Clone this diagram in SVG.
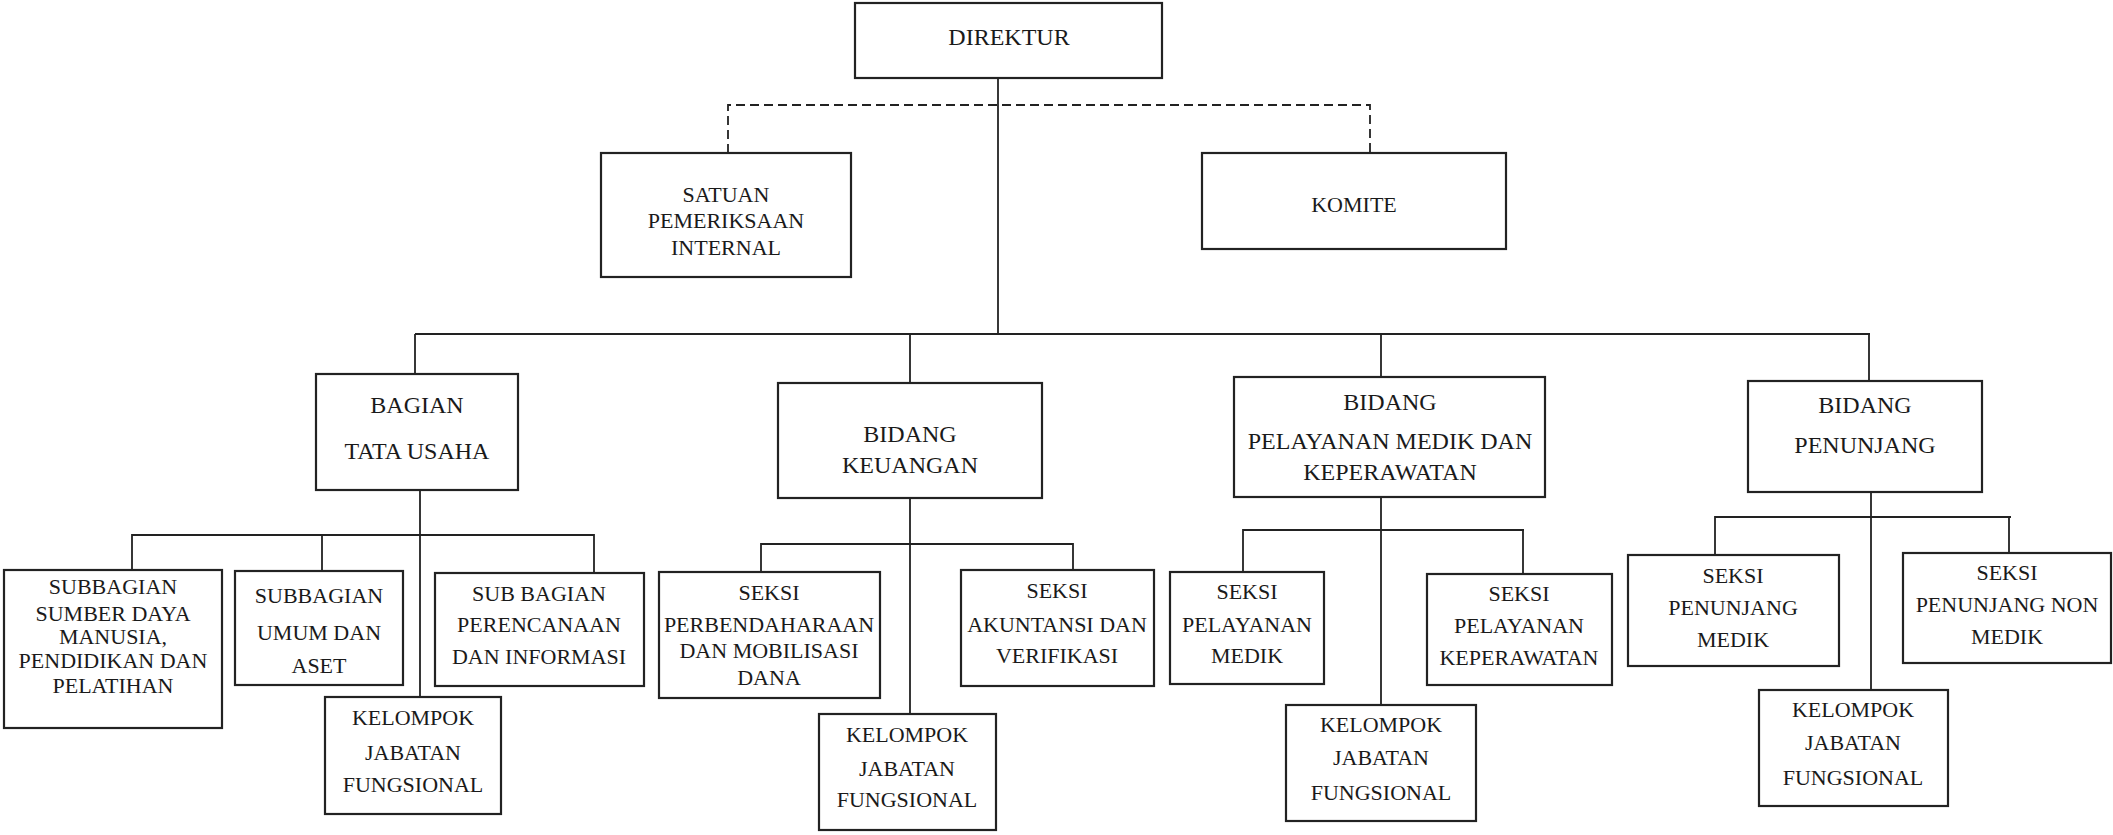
<svg xmlns="http://www.w3.org/2000/svg" width="2113" height="835" viewBox="0 0 2113 835">
<style>
.box{fill:#fff;stroke:#222;stroke-width:2.2}
.ln{fill:none;stroke:#222;stroke-width:1.8}
.dash{fill:none;stroke:#222;stroke-width:1.8;stroke-dasharray:9 5}
text{font-family:"Liberation Serif","Times New Roman",serif;fill:#1a1a1a;text-anchor:middle}
.t24{font-size:24px}
.t22{font-size:22px}
</style>
<rect width="2113" height="835" fill="#fff"/>
<g id="connectors">
<path class="ln" d="M998 78V334"/>
<path class="dash" d="M728 153V105H1370V153"/>
<path class="ln" d="M415 334H1870"/>
<path class="ln" d="M415 334V374M910 334V383M1381 334V377M1869 334V381"/>
<path class="ln" d="M420 490V697M132 570V535H594V573M322 535V571"/>
<path class="ln" d="M910 497V714M761 572V544H1073V570"/>
<path class="ln" d="M1381 497V705M1243 572V530H1524M1523 530V574"/>
<path class="ln" d="M1871 492V690M1715 555V517H2011M2009 517V553"/>
</g>
<g id="direktur"><rect class="box" x="855" y="3" width="307" height="75"/><text class="t24" x="1009" y="45">DIREKTUR</text></g>
<g id="spi"><rect class="box" x="601" y="153" width="250" height="124"/><text class="t22" x="726" y="202">SATUAN</text><text class="t22" x="726" y="228">PEMERIKSAAN</text><text class="t22" x="726" y="255">INTERNAL</text></g>
<g id="komite"><rect class="box" x="1202" y="153" width="304" height="96"/><text class="t22" x="1354" y="212">KOMITE</text></g>
<g id="tata-usaha"><rect class="box" x="316" y="374" width="202" height="116"/><text class="t24" x="417" y="413">BAGIAN</text><text class="t24" x="417" y="459">TATA USAHA</text></g>
<g id="keuangan"><rect class="box" x="778" y="383" width="264" height="115"/><text class="t24" x="910" y="442">BIDANG</text><text class="t24" x="910" y="473">KEUANGAN</text></g>
<g id="pelayanan"><rect class="box" x="1234" y="377" width="311" height="120"/><text class="t24" x="1390" y="410">BIDANG</text><text class="t24" x="1390" y="449">PELAYANAN MEDIK DAN</text><text class="t24" x="1390" y="480">KEPERAWATAN</text></g>
<g id="penunjang"><rect class="box" x="1748" y="381" width="234" height="111"/><text class="t24" x="1865" y="413">BIDANG</text><text class="t24" x="1865" y="453">PENUNJANG</text></g>
<g id="sub-sdm"><rect class="box" x="4" y="570" width="218" height="158"/><text class="t22" x="113" y="594">SUBBAGIAN</text><text class="t22" x="113" y="621">SUMBER DAYA</text><text class="t22" x="113" y="644">MANUSIA,</text><text class="t22" x="113" y="668">PENDIDIKAN DAN</text><text class="t22" x="113" y="693">PELATIHAN</text></g>
<g id="sub-umum"><rect class="box" x="235" y="571" width="168" height="114"/><text class="t22" x="319" y="603">SUBBAGIAN</text><text class="t22" x="319" y="640">UMUM DAN</text><text class="t22" x="319" y="673">ASET</text></g>
<g id="sub-perencanaan"><rect class="box" x="435" y="573" width="209" height="113"/><text class="t22" x="539" y="601">SUB BAGIAN</text><text class="t22" x="539" y="632">PERENCANAAN</text><text class="t22" x="539" y="664">DAN INFORMASI</text></g>
<g id="kjf-tu"><rect class="box" x="325" y="697" width="176" height="117"/><text class="t22" x="413" y="725">KELOMPOK</text><text class="t22" x="413" y="760">JABATAN</text><text class="t22" x="413" y="792">FUNGSIONAL</text></g>
<g id="seksi-perbendaharaan"><rect class="box" x="659" y="572" width="221" height="126"/><text class="t22" x="769" y="600">SEKSI</text><text class="t22" x="769" y="632">PERBENDAHARAAN</text><text class="t22" x="769" y="658">DAN MOBILISASI</text><text class="t22" x="769" y="685">DANA</text></g>
<g id="seksi-akuntansi"><rect class="box" x="961" y="570" width="193" height="116"/><text class="t22" x="1057" y="598">SEKSI</text><text class="t22" x="1057" y="632">AKUNTANSI DAN</text><text class="t22" x="1057" y="663">VERIFIKASI</text></g>
<g id="kjf-keu"><rect class="box" x="819" y="714" width="177" height="116"/><text class="t22" x="907" y="742">KELOMPOK</text><text class="t22" x="907" y="776">JABATAN</text><text class="t22" x="907" y="807">FUNGSIONAL</text></g>
<g id="seksi-pelayanan-medik"><rect class="box" x="1170" y="572" width="154" height="112"/><text class="t22" x="1247" y="599">SEKSI</text><text class="t22" x="1247" y="632">PELAYANAN</text><text class="t22" x="1247" y="663">MEDIK</text></g>
<g id="seksi-keperawatan"><rect class="box" x="1427" y="574" width="185" height="111"/><text class="t22" x="1519" y="601">SEKSI</text><text class="t22" x="1519" y="633">PELAYANAN</text><text class="t22" x="1519" y="665">KEPERAWATAN</text></g>
<g id="kjf-pel"><rect class="box" x="1286" y="705" width="190" height="116"/><text class="t22" x="1381" y="732">KELOMPOK</text><text class="t22" x="1381" y="765">JABATAN</text><text class="t22" x="1381" y="800">FUNGSIONAL</text></g>
<g id="seksi-penunjang-medik"><rect class="box" x="1628" y="555" width="211" height="111"/><text class="t22" x="1733" y="583">SEKSI</text><text class="t22" x="1733" y="615">PENUNJANG</text><text class="t22" x="1733" y="647">MEDIK</text></g>
<g id="seksi-penunjang-non-medik"><rect class="box" x="1903" y="553" width="208" height="110"/><text class="t22" x="2007" y="580">SEKSI</text><text class="t22" x="2007" y="612">PENUNJANG NON</text><text class="t22" x="2007" y="644">MEDIK</text></g>
<g id="kjf-pen"><rect class="box" x="1759" y="690" width="189" height="116"/><text class="t22" x="1853" y="717">KELOMPOK</text><text class="t22" x="1853" y="750">JABATAN</text><text class="t22" x="1853" y="785">FUNGSIONAL</text></g>
</svg>
